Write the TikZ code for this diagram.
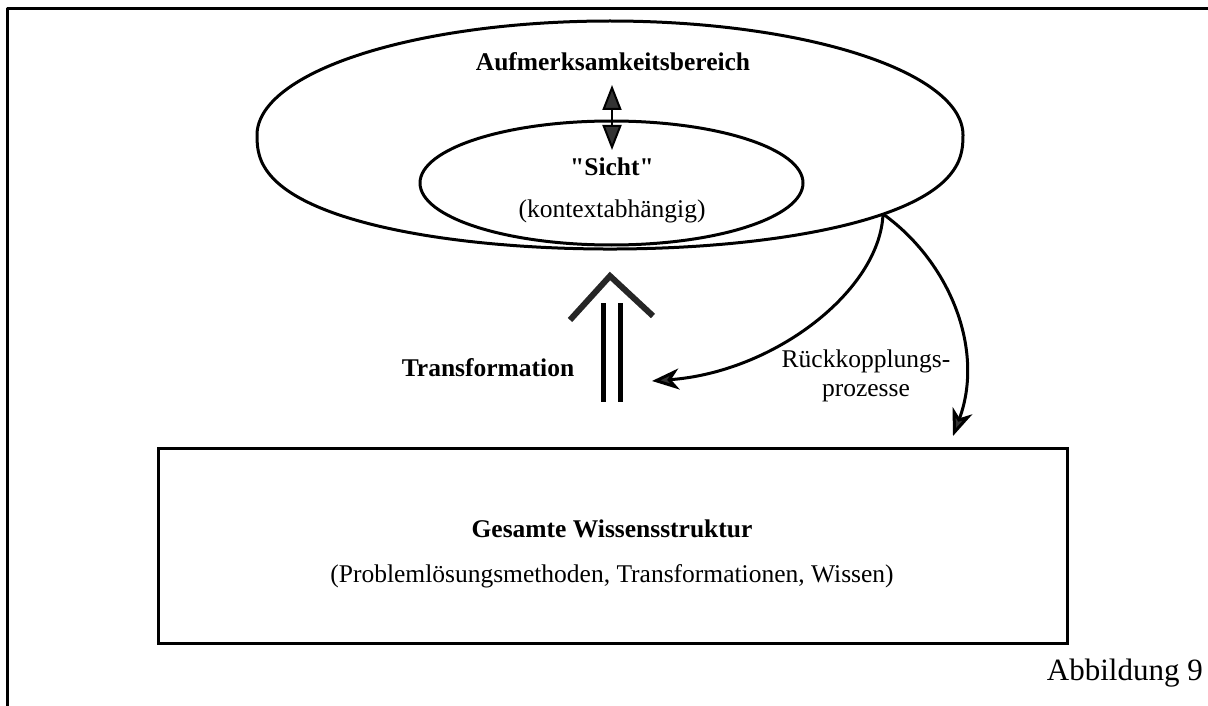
\documentclass[tikz,border=0pt]{standalone}
\usepackage{fontspec}
\setmainfont{Liberation Serif}[Ligatures=TeXOff]
\usetikzlibrary{arrows.meta,shapes.geometric}
\begin{document}
\begin{tikzpicture}[x=1pt,y=-1pt,
  txt/.style={font=\fontsize{25.5}{29}\selectfont, inner sep=0pt, align=center},
  btxt/.style={inner sep=0pt, align=center, font=\fontsize{25.5}{29}\selectfont\bfseries},
  outline/.style={line width=3pt, line join=round},
  fbarrow/.style={line width=3pt, -{Stealth[length=27pt,width=21pt,inset=8pt,fill=black!80]}},
  transline/.style={line width=5pt},
  chevron/.style={line width=6pt, line join=miter, draw=black!85},
  bothtip/.style={line width=2pt, {Triangle[length=25pt,width=19pt,fill=black!80]}-{Triangle[length=25pt,width=19pt,fill=black!80]}},
]
\useasboundingbox (0,0) rectangle (1208,706);
% frame
\draw[outline] (1212,9) -- (7,9) -- (7,710);
% outer attention area (slightly flattened at the bottom)
\draw[outline] plot[domain=0:180, samples=91, smooth] ({610+353*cos(\x)}, {135-114*sin(\x)})
  -- plot[domain=181:359, samples=90, smooth] ({610+353*cos(\x)}, {135+114*(abs(sin(\x))+0.00001)^0.8}) -- cycle;
\coordinate (junction) at (883,214);
% inner view ellipse
\node[ellipse, draw, outline, minimum width=383pt, minimum height=124pt, inner sep=0pt] (view) at (611.5,183) {};
% texts in ellipses
\node[btxt] (attn) at (613,62) {Aufmerksamkeitsbereich};
\node[btxt] (sicht) at (612,167) {"Sicht"};
\node[txt] (kontext) at (612,211) {(kontextabhängig)};
% double arrow
\coordinate (dtop) at (612,85);
\coordinate (dbot) at (612,150);
\draw[bothtip] (dtop) -- (dbot);
% knowledge box
\node[draw, outline, line join=miter, minimum width=909pt, minimum height=195pt, inner sep=0pt] (box) at (612.5,545.5) {};
\node[btxt] (gesamt) at (612,529) {Gesamte Wissensstruktur};
\node[txt] (inhalt) at (612,576) {(Problemlösungsmethoden, Transformationen, Wissen)};
% transformation arrow
\coordinate (la) at (603,303); \coordinate (lb) at (603,402);
\coordinate (ra) at (620,303); \coordinate (rb) at (620,402);
\draw[transline] (la) -- (lb);
\draw[transline] (ra) -- (rb);
\coordinate (cl) at (570,320); \coordinate (ct) at (610,276); \coordinate (cr) at (653,316);
\draw[chevron] (cl) -- (ct) -- (cr);
\node[btxt] (trans) at (488,368) {Transformation};
% feedback arrows
\coordinate (fb1) at (652,381);
\coordinate (fb2) at (953,436);
\draw[fbarrow] (junction) .. controls (880,290) and (775,372) .. (fb1);
\draw[fbarrow] (junction) .. controls (950,262) and (985,350) .. (fb2);
\node[txt] (rueck) at (866,376) {Rückkopplungs-\\prozesse};
% caption
\node[anchor=east, inner sep=0pt, font=\fontsize{31}{35}\selectfont] (abb) at (1203,673) {Abbildung 9};
\end{tikzpicture}
\end{document}
